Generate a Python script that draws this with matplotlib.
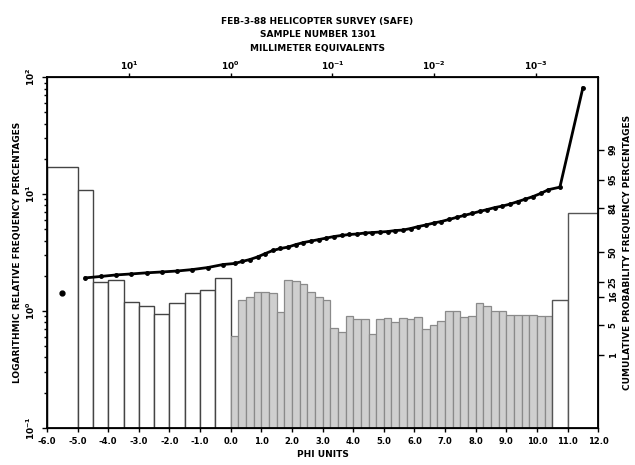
import numpy as np
import matplotlib
matplotlib.use("Agg")
import matplotlib.pyplot as plt
from statistics import NormalDist

# coarse classes (phi lower bound, width, weight percent)
coarse_lo = [-6.0, -5.0, -4.5, -4.0, -3.5, -3.0, -2.5, -2.0, -1.5, -1.0, -0.5]
coarse_wd = [1.0, 0.5, 0.5, 0.5, 0.5, 0.5, 0.5, 0.5, 0.5, 0.5, 0.5]
coarse_pct = [17.0, 10.8, 1.77, 1.84, 1.19, 1.10, 0.94, 1.17, 1.40, 1.51, 1.91]

# quarter-phi classes from 0.0 to 10.5
fine_pct = [0.60, 1.24, 1.30, 1.43, 1.43, 1.40, 0.96, 1.84, 1.80, 1.70, 1.43, 1.30,
            1.24, 0.70, 0.65, 0.89, 0.84, 0.84, 0.62, 0.84, 0.86, 0.80, 0.86, 0.84,
            0.88, 0.69, 0.75, 0.81, 0.98, 0.98, 0.88, 0.90, 1.17, 1.10, 0.98, 0.98,
            0.92, 0.92, 0.92, 0.92, 0.90, 0.90]

# pan fractions
tail_lo = [10.5, 11.0]
tail_wd = [0.5, 1.0]
tail_pct = [1.22, 6.87]

# cumulative percent at class midpoints
cum_left = [18.3, 28.3, 29.4, 30.6, 31.4, 32.3, 33.0, 33.8, 35.0, 36.7, 39.3]
cum_fine = [40.2, 42.0, 43.7, 46.0, 49.0, 51.8, 53.6, 54.9, 57.1, 58.9, 60.2, 61.5,
            62.8, 64.1, 65.0, 65.8, 66.2, 67.0, 67.4, 67.8, 68.2, 69.0, 69.4, 70.6,
            72.1, 73.3, 74.7, 75.8, 77.2, 78.6, 79.9, 81.1, 82.3, 83.4, 84.5, 85.3,
            86.3, 87.5, 88.6, 89.7, 90.9, 92.2]
cum_tail = [93.0, 99.99]

prob_ticks = [1, 5, 16, 25, 50, 84, 95, 99]
mm_ticks = [10, 1, 0.1, 0.01, 0.001]
mm_labels = ["$10^{1}$", "$10^{0}$", "$10^{-1}$", "$10^{-2}$", "$10^{-3}$"]

plt.rcParams["font.family"] = "DejaVu Sans"
plt.rcParams["font.weight"] = "bold"

fine_lo = np.arange(0.0, 10.5, 0.25)
nd = NormalDist()

fig = plt.figure(figsize=(6.35, 4.65), dpi=100)
ax = fig.add_axes([0.074, 0.080, 0.868, 0.754])

ax.bar(coarse_lo, coarse_pct, width=coarse_wd, align="edge", bottom=0.01,
       facecolor="white", edgecolor="#444444", linewidth=1.0, zorder=2)
ax.bar(fine_lo, fine_pct, width=0.25, align="edge", bottom=0.01,
       facecolor="#cfcfcf", edgecolor="#8a8a8a", linewidth=0.9, zorder=2)
ax.bar(tail_lo, tail_pct, width=tail_wd, align="edge", bottom=0.01,
       facecolor="white", edgecolor="#555555", linewidth=1.0, zorder=2)

ax.set_yscale("log")
ax.set_ylim(0.1, 100)
ax.set_xlim(-6, 12)
ax.set_yticks([0.1, 1, 10, 100])
ax.set_yticklabels(["$10^{-1}$", "$10^{0}$", "$10^{1}$", "$10^{2}$"], rotation=90, va="center")
ax.set_xticks(np.arange(-6, 13, 1))
ax.set_xticklabels([f"{v:.1f}" for v in range(-6, 13)])
ax.tick_params(axis="x", labelsize=6, length=3, width=1)
ax.tick_params(axis="y", which="both", labelsize=6.5, direction="out", width=1)
ax.set_xlabel("PHI UNITS", fontsize=6.5, fontweight="bold", labelpad=3)
ax.set_ylabel("LOGARITHMIC RELATIVE FREQUENCY PERCENTAGES", fontsize=6.5,
              fontweight="bold", labelpad=2)
for s in ax.spines.values():
    s.set_linewidth(1.3)

# probability scale for the cumulative curve
ax2 = ax.twinx()
ax2.set_ylim(-3.96, 3.96)
ax2.set_yticks([nd.inv_cdf(p / 100) for p in prob_ticks])
ax2.set_yticklabels([str(p) for p in prob_ticks], rotation=90, va="center")
ax2.tick_params(axis="y", labelsize=6, length=4, width=1)
ax2.set_ylabel("CUMULATIVE PROBABILITY FREQUENCY PERCENTAGES", fontsize=6.5,
               fontweight="bold", labelpad=4)

cum_x = list(np.array(coarse_lo) + np.array(coarse_wd) / 2) + list(fine_lo + 0.125) \
    + list(np.array(tail_lo) + np.array(tail_wd) / 2)
cum_z = [nd.inv_cdf(p / 100) for p in cum_left + cum_fine + cum_tail]
ax2.plot(cum_x[1:], cum_z[1:], color="black", linewidth=2.0, marker="o",
         markersize=2.5, zorder=5)
ax2.plot(cum_x[:1], cum_z[:1], "o", color="black", markersize=3.5, zorder=5)

# millimeter equivalents along the top
ax3 = ax.twiny()
ax3.set_xlim(-6, 12)
ax3.set_xticks([-np.log2(m) for m in mm_ticks])
ax3.set_xticklabels(mm_labels)
ax3.tick_params(axis="x", which="major", labelsize=6.5, length=3, width=1, pad=1)

fig.text(0.50, 0.953, "FEB-3-88 HELICOPTER SURVEY (SAFE)", ha="center", va="center",
         fontsize=6.5, fontweight="bold")
fig.text(0.50, 0.925, "SAMPLE NUMBER 1301", ha="center", va="center",
         fontsize=6.5, fontweight="bold")
fig.text(0.50, 0.895, "MILLIMETER EQUIVALENTS", ha="center", va="center",
         fontsize=6.5, fontweight="bold")

fig.savefig("out.png", dpi=100)
